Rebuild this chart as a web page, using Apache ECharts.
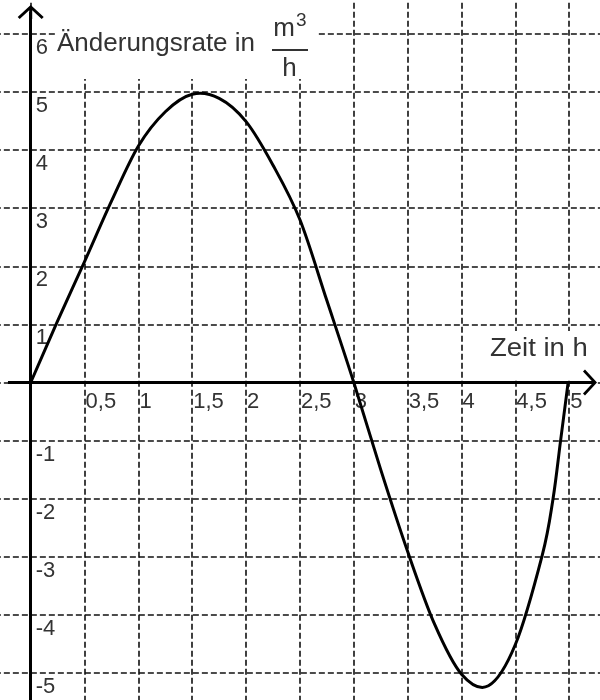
<!DOCTYPE html>
<html>
<head>
<meta charset="utf-8">
<script src="https://cdn.jsdelivr.net/npm/echarts@6/dist/echarts.min.js"></script>
<style>
html,body{margin:0;padding:0;background:#ffffff;}
#chart{width:600px;height:700px;}
</style>
</head>
<body>
<div id="chart"></div>
<script>
// ---- data ----
const timeValues = [0, 0.25, 0.5, 0.75, 1.0, 1.25, 1.5, 1.75, 2.0, 2.25, 2.5, 2.75, 3.0, 3.25, 3.5, 3.75, 4.0, 4.25, 4.5, 4.75, 4.85, 4.92, 4.99];
const rateValues = [0, 1.06, 2.08, 3.12, 4.07, 4.66, 4.96, 4.89, 4.49, 3.74, 2.80, 1.41, 0, -1.50, -2.91, -4.16, -5.02, -5.22, -4.51, -2.97, -2.0, -1.0, 0];

const xTickValues = [0.5, 1, 1.5, 2, 2.5, 3, 3.5, 4, 4.5, 5];
const xTickLabels = ['0,5', '1', '1,5', '2', '2,5', '3', '3,5', '4', '4,5', '5'];
const yTickValues = [-5, -4, -3, -2, -1, 1, 2, 3, 4, 5, 6];
const yTickLabels = ['-5', '-4', '-3', '-2', '-1', '1', '2', '3', '4', '5', '6'];

const xAxisTitle = 'Zeit in h';
const yAxisTitle = 'Änderungsrate in';
const unitNumerator = 'm';
const unitExponent = '3';
const unitDenominator = 'h';

// ---- chart ----
const FONT = '"Liberation Sans", Arial, sans-serif';
const chart = echarts.init(document.getElementById('chart'), null, {renderer: 'canvas'});

function lookup(values, labels, v) {
  for (let i = 0; i < values.length; i++) {
    if (Math.abs(values[i] - v) < 1e-6) return labels[i];
  }
  return '';
}

// grid geometry: x from -0.5 to 5.5, y from -6 to 7
const G = {left: -23.15, right: -23.05, top: -24.2, bottom: -31.1};
const gridW = 600 - G.left - G.right;
const gridH = 700 - G.top - G.bottom;
const X_MIN = -0.5, X_MAX = 5.5, Y_MIN = -6, Y_MAX = 7;
const yZeroFromBottom = gridH * (0 - Y_MIN) / (Y_MAX - Y_MIN);
const xZeroFromLeft = gridW * (0 - X_MIN) / (X_MAX - X_MIN);

const gridLineStyle = {color: '#111', width: 1.6, type: [6, 3]};
const arrowPath = 'path://M13,0 L26,12 L24,14 L14.5,5.2 L14.5,14 L11.5,14 L11.5,5.2 L2,14 L0,12 Z';

const curveData = timeValues.map((t, i) => [t, rateValues[i]]);

function renderCurve(params, api) {
  if (params.dataIndex !== 0) return null;
  const p = curveData.map(d => api.coord(d));
  let d = 'M' + p[0][0] + ',' + p[0][1];
  for (let i = 0; i < p.length - 1; i++) {
    const p0 = p[Math.max(i - 1, 0)], p1 = p[i], p2 = p[i + 1], p3 = p[Math.min(i + 2, p.length - 1)];
    const c1x = p1[0] + (p2[0] - p0[0]) / 6, c1y = p1[1] + (p2[1] - p0[1]) / 6;
    const c2x = p2[0] - (p3[0] - p1[0]) / 6, c2y = p2[1] - (p3[1] - p1[1]) / 6;
    d += ' C' + c1x + ',' + c1y + ' ' + c2x + ',' + c2y + ' ' + p2[0] + ',' + p2[1];
  }
  return {
    type: 'path',
    shape: {pathData: d},
    style: {stroke: '#000', lineWidth: 3, fill: null, lineJoin: 'round'}
  };
}

chart.setOption({
  animation: false,
  backgroundColor: '#ffffff',
  grid: {
    left: G.left, right: G.right, top: G.top, bottom: G.bottom,
    containLabel: false,
    outerBoundsMode: 'none'
  },
  xAxis: {
    type: 'value',
    min: X_MIN, max: X_MAX, interval: 0.5,
    position: 'bottom',
    offset: -yZeroFromBottom,
    axisLine: {show: false, onZero: false},
    axisTick: {show: false},
    splitLine: {show: true, lineStyle: gridLineStyle},
    axisLabel: {
      show: true,
      margin: 8,
      align: 'left',
      verticalAlign: 'top',
      padding: [0, 0, 0, 1],
      color: '#333',
      fontSize: 22,
      fontFamily: FONT,
      formatter: (v) => lookup(xTickValues, xTickLabels, v)
    }
  },
  yAxis: {
    type: 'value',
    min: Y_MIN, max: Y_MAX, interval: 1,
    position: 'left',
    offset: -xZeroFromLeft,
    axisLine: {show: false, onZero: false},
    axisTick: {show: false},
    splitLine: {show: true, lineStyle: gridLineStyle},
    axisLabel: {
      show: true,
      inside: true,
      margin: 5,
      align: 'left',
      verticalAlign: 'top',
      padding: [3, 0, 0, 0],
      color: '#333',
      fontSize: 22,
      fontFamily: FONT,
      formatter: (v) => lookup(yTickValues, yTickLabels, v)
    }
  },
  graphic: [
    {type: 'rect', z: 1, silent: true, shape: {x: 56, y: 0, width: 262, height: 79}, style: {fill: '#ffffff'}},
    {type: 'rect', z: 1, silent: true, shape: {x: 480, y: 331, width: 120, height: 47}, style: {fill: '#ffffff'}},
    {type: 'text', z: 1, silent: true, x: 57, y: 44,
      style: {text: yAxisTitle, fill: '#333', font: '26px ' + FONT, align: 'left', verticalAlign: 'middle'}},
    {type: 'text', z: 1, silent: true, x: 284, y: 29,
      style: {text: unitNumerator, fill: '#333', font: '26px ' + FONT, align: 'center', verticalAlign: 'middle'}},
    {type: 'text', z: 1, silent: true, x: 296, y: 21,
      style: {text: unitExponent, fill: '#333', font: '19px ' + FONT, align: 'left', verticalAlign: 'middle'}},
    {type: 'line', z: 1, silent: true, shape: {x1: 272, y1: 50, x2: 308, y2: 50}, style: {stroke: '#333', lineWidth: 2}},
    {type: 'text', z: 1, silent: true, x: 289.5, y: 69,
      style: {text: unitDenominator, fill: '#333', font: '26px ' + FONT, align: 'center', verticalAlign: 'middle'}},
    {type: 'text', z: 1, silent: true, x: 490, y: 349, scaleX: 1.1,
      style: {text: xAxisTitle, fill: '#333', font: '25px ' + FONT, align: 'left', verticalAlign: 'middle'}}
  ],
  series: [
    {
      type: 'custom',
      name: 'Änderungsrate',
      data: curveData,
      encode: {x: 0, y: 1},
      renderItem: renderCurve,
      z: 3,
      silent: true
    },
    {
      type: 'line',
      data: [],
      z: 3,
      silent: true,
      markLine: {
        silent: true,
        animation: false,
        symbol: ['none', arrowPath],
        symbolSize: [26, 14],
        label: {show: false},
        emphasis: {disabled: true},
        lineStyle: {color: '#000', width: 3, type: 'solid'},
        data: [
          [{coord: [-0.211, 0]}, {coord: [5.193, 0]}],
          [{coord: [0, -5.6]}, {coord: [0, 6.377]}]
        ]
      }
    }
  ]
});
</script>
</body>
</html>
